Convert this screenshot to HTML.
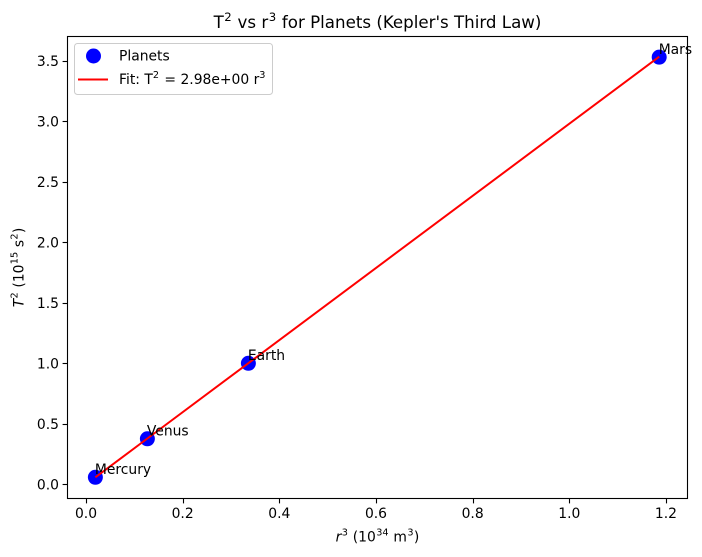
<!DOCTYPE html>
<html lang="en">
<head>
<meta charset="utf-8">
<title>Kepler's Third Law chart</title>
<style>
html,body{margin:0;padding:0;background:#fff;width:702px;height:557px;overflow:hidden}
svg{display:block}
text{font-family:"DejaVu Sans","Liberation Sans",sans-serif;fill:#000}
</style>
</head>
<body>
<svg id="chart" xmlns="http://www.w3.org/2000/svg" width="702" height="557" viewBox="0 0 702 557">
  <text x="377.5" y="28" font-size="16.67" text-anchor="middle">T<tspan font-size="11.7" dy="-7" dx="0.5">2</tspan><tspan dy="7" dx="0.5"> vs r</tspan><tspan font-size="11.7" dy="-7" dx="0.5">3</tspan><tspan dy="7" dx="0.5"> for Planets (Kepler's Third Law)</tspan></text>
  <text x="377.5" y="541.5" font-size="13.89" text-anchor="middle"><tspan font-style="italic">r</tspan><tspan font-size="9.7" dy="-6" dx="0.4">3</tspan><tspan dy="6" dx="0.4"> (10</tspan><tspan font-size="9.7" dy="-6" dx="0.4">34</tspan><tspan dy="6" dx="0.4"> m</tspan><tspan font-size="9.7" dy="-6" dx="0.4">3</tspan><tspan dy="6" dx="0.4">)</tspan></text>
  <text transform="translate(23.5,267.5) rotate(-90)" font-size="13.89" text-anchor="middle"><tspan font-style="italic">T</tspan><tspan font-size="9.7" dy="-6" dx="0.3">2</tspan><tspan dy="6" dx="0.3"> (10</tspan><tspan font-size="9.7" dy="-6" dx="0.3">15</tspan><tspan dy="6" dx="0.3"> s</tspan><tspan font-size="9.7" dy="-6" dx="0.3">2</tspan><tspan dy="6" dx="0.3">)</tspan></text>
  <g id="ticks"></g>
  <g id="points"></g>
  <g id="fit"></g>
  <g id="labels"></g>
  <rect x="67.5" y="36.5" width="620" height="462" fill="none" stroke="#000" stroke-width="1.1"/>
  <g>
    <rect x="74.5" y="43.5" width="198" height="51" rx="3" fill="#fff" fill-opacity="0.8" stroke="#ccc" stroke-width="1"/>
    <circle cx="93.5" cy="56" r="7.5" fill="#0000ff"/>
    <text x="119" y="60.5" font-size="13.89">Planets</text>
    <line x1="78" y1="79.5" x2="108" y2="79.5" stroke="#ff0000" stroke-width="2"/>
    <text x="119" y="84" font-size="13.89">Fit: T<tspan font-size="9.7" dy="-6">2</tspan><tspan dy="6" dx="1"> = </tspan><tspan>2.98e+00 r</tspan><tspan font-size="9.7" dy="-6">3</tspan></text>
  </g>
</svg>
<script>
const planets = ['Mercury', 'Venus', 'Earth', 'Mars'];
const rCubed = [0.0194, 0.127, 0.336, 1.186];
const tSquared = [0.0578, 0.376, 1.0, 3.53];
const fitSlope = [2.98];
const xTickValues = [0, 0.2, 0.4, 0.6, 0.8, 1.0, 1.2];
const yTickValues = [0, 0.5, 1.0, 1.5, 2.0, 2.5, 3.0, 3.5];

const NS = 'http://www.w3.org/2000/svg';
function xScale(v) { return 86 + v * 483.3; }
function yScale(v) { return 484.3 - v * 121; }
function make(tag, parent, attrs) {
  const el = document.createElementNS(NS, tag);
  for (const k in attrs) el.setAttribute(k, attrs[k]);
  parent.appendChild(el);
  return el;
}
const ticksG = document.getElementById('ticks');
xTickValues.forEach(function (v) {
  const px = Math.round(xScale(v)) + 0.5;
  const tick = make('line', ticksG, {x1: px, x2: px, y1: 498.5, y2: 503.4, stroke: '#000', 'stroke-width': 1.1});
  
  
  const label = make('text', ticksG, {x: xScale(v), y: 518, 'font-size': 13.89, 'text-anchor': 'middle'});
  
  
  label.textContent = v.toFixed(1);
});
yTickValues.forEach(function (v) {
  const py = Math.round(yScale(v)) + 0.5;
  const tick = make('line', ticksG, {x1: 62.6, x2: 67.5, y1: py, y2: py, stroke: '#000', 'stroke-width': 1.1});
  
  
  const label = make('text', ticksG, {x: 59, y: yScale(v) + 5.3, 'font-size': 13.89, 'text-anchor': 'end'});
  
  
  label.textContent = v.toFixed(1);
});
const pointsG = document.getElementById('points');
const labelsG = document.getElementById('labels');
planets.forEach(function (name, i) {
  const dot = make('circle', pointsG, {cx: xScale(rCubed[i]), cy: yScale(tSquared[i]), r: 7.5, fill: '#0000ff'});
  
  
  const label = make('text', labelsG, {x: xScale(rCubed[i]) - 0.5, y: yScale(tSquared[i]) - 3.2, 'font-size': 13.89});
  
  
  label.textContent = name;
});
const fitG = document.getElementById('fit');
const fitPts = rCubed.map(function (r) {
  return xScale(r) + ',' + yScale(fitSlope[0] * r);
}).join(' ');
const fitLine = make('polyline', fitG, {points: fitPts, fill: 'none', stroke: '#ff0000', 'stroke-width': 2});


</script>
</body>
</html>
